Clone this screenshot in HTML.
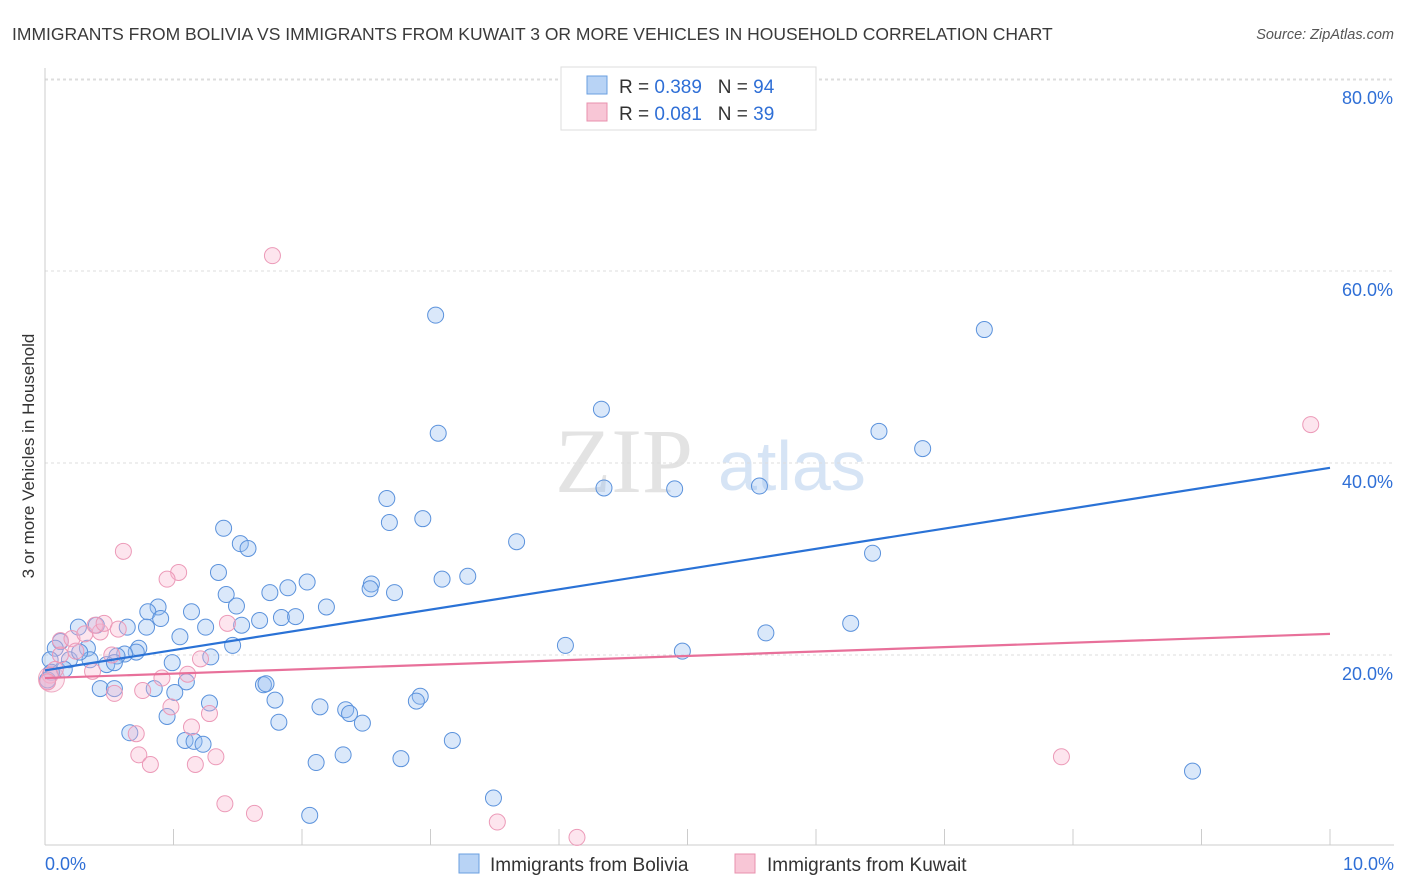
<!DOCTYPE html>
<html><head><meta charset="utf-8"><style>
body{margin:0;background:#fff;font-family:"Liberation Sans",sans-serif;}
svg{display:block}
</style></head><body>
<svg id="chart" width="1406" height="892">
<text x="12" y="40" font-size="17.5" fill="#3a3a3a">IMMIGRANTS FROM BOLIVIA VS IMMIGRANTS FROM KUWAIT 3 OR MORE VEHICLES IN HOUSEHOLD CORRELATION CHART</text>
<text x="1394" y="39" font-size="14.5" fill="#555" font-style="italic" text-anchor="end">Source: ZipAtlas.com</text>
<text x="555" y="492" font-size="92" fill="#e3e3e3" font-family="Liberation Serif">ZIP</text>
<text x="718" y="490" font-size="70" fill="#d6e4f5">atlas</text>
<text transform="translate(34,456) rotate(-90)" font-size="17" fill="#333" text-anchor="middle">3 or more Vehicles in Household</text>
<g id="grid"></g><g id="pts"></g><g id="lines"></g>
<g>
<rect x="561" y="67" width="255" height="63" fill="#fff" stroke="#ddd"/>
<rect x="587" y="76" width="20" height="18" fill="#b8d3f5" stroke="#6a9fe0"/>
<rect x="587" y="103" width="20" height="18" fill="#f8c6d6" stroke="#e890ae"/>
<text x="619" y="93" font-size="19" fill="#333">R = <tspan fill="#2f6fd6">0.389</tspan>&#160;&#160;&#160;N = <tspan fill="#2f6fd6">94</tspan></text>
<text x="619" y="120" font-size="19" fill="#333">R = <tspan fill="#2f6fd6">0.081</tspan>&#160;&#160;&#160;N = <tspan fill="#2f6fd6">39</tspan></text>
</g>
<g>
<rect x="459" y="854" width="20" height="19" fill="#b8d3f5" stroke="#6a9fe0"/>
<text x="490" y="871" font-size="19" fill="#333">Immigrants from Bolivia</text>
<rect x="735" y="854" width="20" height="19" fill="#f8c6d6" stroke="#e890ae"/>
<text x="767" y="871" font-size="19" fill="#333">Immigrants from Kuwait</text>
</g>
</svg>
<script>
const yTicks=[20,40,60,80];
const xTickLabels=["0.0%","10.0%"];
const boliviaX=[3.04,7.31,4.33,3.06,6.49,6.83,4.35,4.9,5.56,2.66,2.68,2.94,1.39,1.52,1.58,3.67,6.44,1.35,3.09,3.29,2.04,1.89,1.75,1.41,2.54,2.53,2.72,1.49,2.19,0.88,0.8,1.14,0.9,1.84,1.95,1.67,1.25,0.79,1.53,0.64,0.4,0.26,5.61,6.27,1.05,4.05,1.46,0.73,4.96,0.71,0.62,0.56,0.33,0.12,0.08,0.04,0.19,0.35,0.99,1.29,0.48,0.15,0.05,0.02,1.7,1.72,0.43,0.54,0.85,1.1,1.01,1.79,2.92,2.89,1.28,2.14,2.34,2.37,2.47,0.95,1.82,0.66,1.09,1.16,1.23,3.17,2.32,2.77,2.11,3.49,2.06,8.93,0.54,0.27];
const boliviaY=[55.4,53.9,45.6,43.1,43.3,41.5,37.4,37.3,37.6,36.3,33.8,34.2,33.2,31.6,31.1,31.8,30.6,28.6,27.9,28.2,27.6,27.0,26.5,26.3,27.4,26.9,26.5,25.1,25.0,25.0,24.5,24.5,23.8,23.9,24.0,23.6,22.9,22.9,23.1,22.9,23.1,22.9,22.3,23.3,21.9,21.0,21.0,20.7,20.4,20.3,20.1,19.9,20.7,21.4,20.7,19.5,19.5,19.5,19.2,19.8,19.0,18.5,18.2,17.4,16.9,17.0,16.5,16.5,16.5,17.2,16.1,15.3,15.7,15.2,15.0,14.6,14.3,13.9,12.9,13.6,13.0,11.9,11.1,11.0,10.7,11.1,9.6,9.2,8.8,5.1,3.3,7.9,19.2,20.3];
const kuwaitX=[1.77,9.85,0.61,1.04,0.95,0.12,0.21,0.31,0.43,0.39,0.46,0.57,0.24,0.12,0.08,0.04,0.02,0.52,1.21,1.42,1.11,0.91,0.76,0.54,1.28,0.98,1.14,0.71,0.73,0.82,1.17,1.33,0.02,1.4,1.63,3.52,4.14,7.91,0.37];
const kuwaitY=[61.6,44.0,30.8,28.6,27.9,21.5,21.7,22.2,22.4,23.1,23.3,22.7,20.4,20.0,18.5,17.9,17.2,20.0,19.6,23.3,18.0,17.6,16.3,16.0,13.9,14.6,12.5,11.8,9.6,8.6,8.6,9.4,17.2,4.5,3.5,2.6,1.0,9.4,18.3];
const blueFit=[18.4,39.5], pinkFit=[17.6,22.2];
const X=v=>45+v*128.5, Y=v=>847-v*9.6;
const NS="http://www.w3.org/2000/svg";
function mk(t,a,p){const e=document.createElementNS(NS,t);for(const k in a)e.setAttribute(k,a[k]);p.appendChild(e);return e;}
const g=document.getElementById('grid');
for(const t of yTicks){
 const l=mk('line',{x1:45,x2:1394,y1:Y(t),y2:Y(t),stroke:'#ddd','stroke-dasharray':'3,3'},g);
 
 
 const tx=mk('text',{x:1393,y:Y(t)+25,'font-size':18,fill:'#2f6fd6','text-anchor':'end'},g);tx.textContent=t.toFixed(1)+'%';
 
 
}
mk('line',{x1:45,x2:1394,y1:80,y2:80,stroke:'#ddd','stroke-dasharray':'3,3'},g);
mk('line',{x1:45,x2:45,y1:68,y2:845,stroke:'#ccc'},g);
mk('line',{x1:45,x2:1394,y1:845,y2:845,stroke:'#ccc'},g);
for(let i=0;i<=10;i++){const t=mk('line',{x1:X(i),x2:X(i),y1:829,y2:845,stroke:'#ccc'},g);
 
 }
const a=mk('text',{x:45,y:870,'font-size':18,fill:'#2f6fd6'},g);a.textContent=xTickLabels[0];


const b=mk('text',{x:1394,y:870,'font-size':18,fill:'#2f6fd6','text-anchor':'end'},g);b.textContent=xTickLabels[1];


const p=document.getElementById('pts');
mk('circle',{cx:X(0.05),cy:Y(17.5),r:13,fill:'rgba(244,160,190,0.25)',stroke:'#eeaac2'},p);
boliviaX.forEach((x,i)=>{const c=mk('circle',{cx:X(x),cy:Y(boliviaY[i]),r:8,fill:'rgba(150,190,240,0.35)',stroke:'#5b92dc','stroke-width':1},p);
 
 });
kuwaitX.forEach((x,i)=>{const c=mk('circle',{cx:X(x),cy:Y(kuwaitY[i]),r:8,fill:'rgba(248,180,205,0.35)',stroke:'#ec9ab8','stroke-width':1},p);
 
 });
const L=document.getElementById('lines');
const bl=mk('line',{x1:X(0),y1:Y(blueFit[0]),x2:X(10),y2:Y(blueFit[1]),stroke:'#2a72d6','stroke-width':2.2},L);


const pl=mk('line',{x1:X(0),y1:Y(pinkFit[0]),x2:X(10),y2:Y(pinkFit[1]),stroke:'#e8709a','stroke-width':2.2},L);


</script>
</body></html>
